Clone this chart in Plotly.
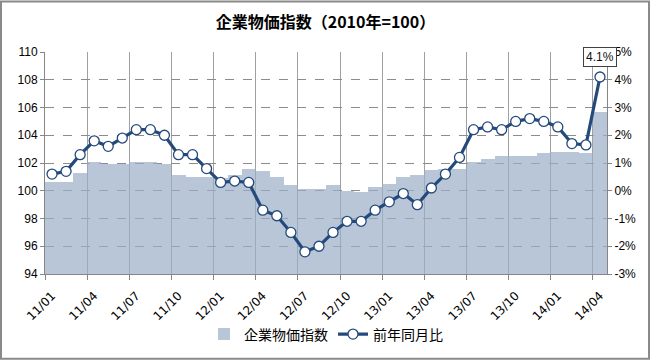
import plotly.graph_objects as go

months = ["11/01","11/02","11/03","11/04","11/05","11/06","11/07","11/08","11/09","11/10","11/11","11/12",
          "12/01","12/02","12/03","12/04","12/05","12/06","12/07","12/08","12/09","12/10","12/11","12/12",
          "13/01","13/02","13/03","13/04","13/05","13/06","13/07","13/08","13/09","13/10","13/11","13/12",
          "14/01","14/02","14/03","14/04"]

cgpi = [100.6, 100.6, 101.3, 102.1, 101.9, 101.9, 102.1, 102.1, 101.9, 101.1, 101.0, 101.0,
        100.9, 101.1, 101.6, 101.4, 101.0, 100.4, 100.1, 100.1, 100.4, 100.0, 99.9, 100.3,
        100.5, 101.0, 101.1, 101.5, 101.6, 101.6, 102.1, 102.3, 102.5, 102.5, 102.5, 102.7,
        102.8, 102.8, 102.7, 105.7]

yoy = [0.6, 0.7, 1.3, 1.8, 1.6, 1.9, 2.2, 2.2, 2.0, 1.3, 1.3, 0.8,
       0.3, 0.35, 0.3, -0.7, -0.9, -1.5, -2.2, -2.0, -1.5, -1.1, -1.1, -0.7,
       -0.4, -0.1, -0.5, 0.1, 0.6, 1.2, 2.2, 2.3, 2.2, 2.5, 2.6, 2.5,
       2.3, 1.7, 1.65, 4.1]

left_ticks = [94, 96, 98, 100, 102, 104, 106, 108, 110]
right_ticks = [-3, -2, -1, 0, 1, 2, 3, 4, 5]
right_ticktext = ["-3%", "-2%", "-1%", "0%", "1%", "2%", "3%", "4%", "5%"]

n = len(months)
xs = list(range(n))
tick_idx = list(range(0, n, 3))

FONT = "Liberation Sans, Noto Sans CJK JP, sans-serif"
XFONT = "DejaVu Sans, Liberation Sans, sans-serif"
CJK = "Noto Sans CJK JP, Liberation Sans, sans-serif"
AXC = "#868686"

fig = go.Figure()
fig.add_trace(go.Bar(
    x=xs, y=cgpi, name="企業物価指数", width=1.0,
    marker=dict(color="rgba(155,174,198,0.7)", line=dict(width=0)),
    yaxis="y",
))
fig.add_trace(go.Scatter(
    x=xs, y=yoy, name="前年同月比", mode="lines+markers",
    line=dict(color="#244a7c", width=3.2),
    marker=dict(size=10, color="white", line=dict(color="#244a7c", width=1.3)),
    yaxis="y2", cliponaxis=False,
))

fig.add_annotation(
    x=xs[-1], y=yoy[-1], xref="x", yref="y2",
    text=f"{yoy[-1]:.1f}%", showarrow=False, yshift=20,
    font=dict(family=FONT, size=12, color="#111"),
    bgcolor="white", bordercolor="#404040", borderwidth=1, borderpad=2,
)

W, H = 651, 363
L, R, T, B = 45, 44, 52, 87
pw, ph = W - L - R, H - T - B
def px(xp): return (xp - L) / pw
def py(yp): return (H - B - yp) / ph

fig.add_shape(type="rect", xref="paper", yref="paper",
              x0=px(1), x1=px(649), y0=py(361.5), y1=py(1),
              line=dict(color="#8a8a8a", width=2), fillcolor="rgba(0,0,0,0)", layer="below")

fig.update_layout(
    width=W, height=H,
    margin=dict(l=L, r=R, t=T, b=B),
    paper_bgcolor="white", plot_bgcolor="white",
    bargap=0,
    title=dict(text="企業物価指数（2010年=100）", x=0.5, xanchor="center", y=1 - 22 / H, yanchor="middle",
               font=dict(family=CJK, size=16, color="black", weight="bold")),
    font=dict(family=FONT, size=12, color="black"),
    xaxis=dict(
        range=[-0.5, n - 0.5], tickmode="array", tickvals=tick_idx,
        ticktext=[months[i] for i in tick_idx], tickangle=-45,
        showgrid=False, ticks="", showline=True, linecolor=AXC, linewidth=1,
        mirror=False, zeroline=False, ticklabelstandoff=9,
        tickfont=dict(family=XFONT, size=12),
        minor=dict(tickmode="array", tickvals=[i - 0.5 for i in tick_idx],
                   showgrid=True, gridcolor="#a0a0a0", gridwidth=1,
                   ticks="outside", ticklen=5, tickcolor=AXC),
    ),
    yaxis=dict(
        range=[94, 110], tickmode="array", tickvals=left_ticks,
        showgrid=True, gridcolor="#8c8c8c", griddash="dash", gridwidth=1,
        ticks="outside", ticklen=4, tickcolor=AXC,
        showline=True, linecolor=AXC, zeroline=False,
        tickfont=dict(family=FONT, size=12),
    ),
    yaxis2=dict(
        range=[-3, 5], overlaying="y", side="right", tickmode="array",
        tickvals=right_ticks, ticktext=right_ticktext,
        showgrid=False, ticks="outside", ticklen=4, tickcolor=AXC,
        showline=True, linecolor=AXC, zeroline=False,
        tickfont=dict(family=FONT, size=12),
    ),
    legend=dict(orientation="h", x=0.5, xanchor="center", y=py(337), yanchor="middle",
                font=dict(family=CJK, size=14), bgcolor="rgba(0,0,0,0)",
                tracegroupgap=0),
    showlegend=True,
)

fig.write_html("out.html", config={"displayModeBar": False},
               post_script="document.body.style.margin='0';document.body.style.padding='0';")
